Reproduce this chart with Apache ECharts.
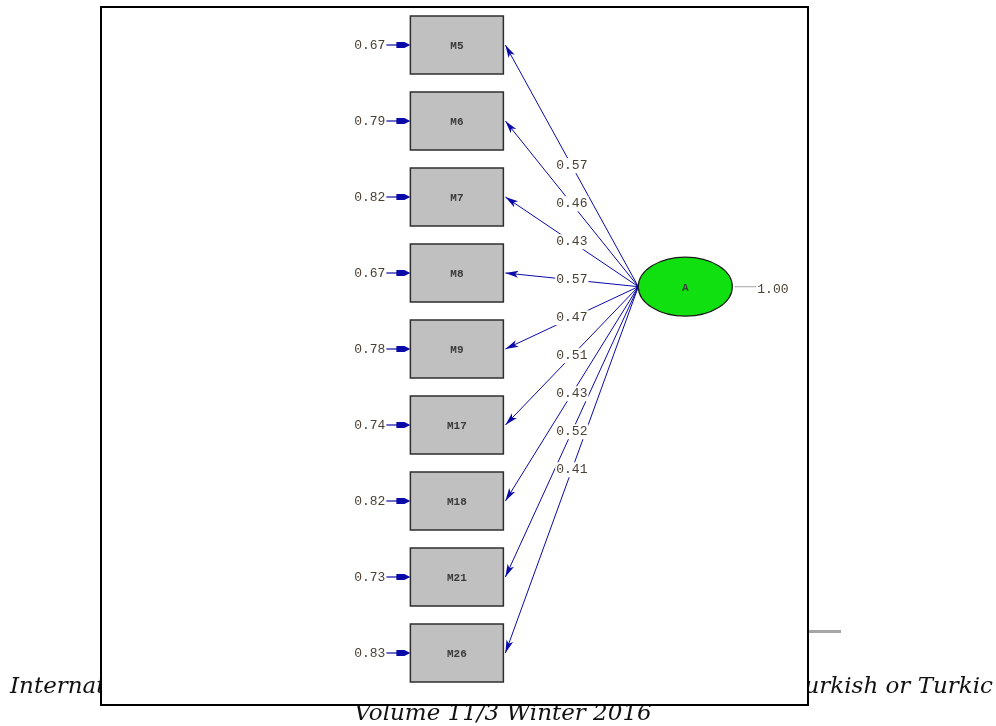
<!DOCTYPE html>
<html>
<head>
<meta charset="utf-8">
<script src="https://cdn.jsdelivr.net/npm/echarts@6/dist/echarts.min.js"></script>
<style>
  html, body { margin: 0; padding: 0; background: #fff; }
  #chart { width: 996px; height: 726px; }
</style>
</head>
<body>
<div id="chart"></div>
<script>
// observed indicators, their loadings on A and error variances
const indicators = ['M5', 'M6', 'M7', 'M8', 'M9', 'M17', 'M18', 'M21', 'M26'];
const loadings = [0.57, 0.46, 0.43, 0.57, 0.47, 0.51, 0.43, 0.52, 0.41];
const errors = [0.67, 0.79, 0.82, 0.67, 0.78, 0.74, 0.82, 0.73, 0.83];
const latentName = 'A';
const latentVariance = 1.00;

// layout (axis units): indicators in column 0, latent in column 1
const latentRow = 3.18;
const BOX_W = 93, BOX_H = 58;
const ELL_RX = 47, ELL_RY = 29.5;
const NAVY = '#0a0aa8';
const LABEL = '#4a3f33';
const MONO = '"Liberation Mono", "DejaVu Sans Mono", monospace';

const chart = echarts.init(document.getElementById('chart'));

function arrowHead(tip, from, len, half) {
  const dx = tip[0] - from[0], dy = tip[1] - from[1];
  const d = Math.sqrt(dx * dx + dy * dy);
  const ux = dx / d, uy = dy / d;
  const bx = tip[0] - ux * len, by = tip[1] - uy * len;
  const nx = tip[0] - ux * len * 0.75, ny = tip[1] - uy * len * 0.75;
  return [
    tip,
    [bx - uy * half, by + ux * half],
    [nx, ny],
    [bx + uy * half, by - ux * half]
  ];
}

function renderIndicator(params, api) {
  const c = api.coord([api.value(0), api.value(1)]);
  const x0 = c[0] - BOX_W / 2;
  const y = c[1];
  const i = params.dataIndex;
  return {
    type: 'group',
    children: [
      { type: 'rect', shape: { x: x0, y: y - BOX_H / 2, width: BOX_W, height: BOX_H },
        style: { fill: '#c0c0c0', stroke: '#2e2e2e', lineWidth: 1.5 } },
      { type: 'text', style: { text: indicators[i], x: c[0], y: y + 1, align: 'center', verticalAlign: 'middle',
        font: 'bold 11px ' + MONO, fill: '#3a3a3a' } },
      { type: 'line', shape: { x1: x0 - 24, y1: y, x2: x0 - 4, y2: y },
        style: { stroke: NAVY, lineWidth: 1.2 } },
      { type: 'polygon', shape: { points: [[x0 - 14, y - 3], [x0 - 6, y - 3], [x0, y], [x0 - 6, y + 3], [x0 - 14, y + 3]] },
        style: { fill: NAVY } },
      { type: 'text', style: { text: errors[i].toFixed(2), x: x0 - 25, y: y + 1, align: 'right', verticalAlign: 'middle',
        font: '13px ' + MONO, fill: LABEL } }
    ]
  };
}

function renderLoading(params, api) {
  const i = api.value(0);
  const b = api.coord([0, i]);
  const end = [b[0] + BOX_W / 2 + 2, b[1]];
  const l = api.coord([1, latentRow]);
  const start = [l[0] - ELL_RX, l[1]];
  const mid = [(start[0] + end[0]) / 2, (start[1] + end[1]) / 2];
  return {
    type: 'group',
    children: [
      { type: 'line', shape: { x1: start[0], y1: start[1], x2: end[0], y2: end[1] },
        style: { stroke: NAVY, lineWidth: 1 } },
      { type: 'polygon', shape: { points: arrowHead(end, start, 13, 3.5) }, style: { fill: NAVY } },
      { type: 'text', z2: 10, style: { text: api.value(1).toFixed(2), x: mid[0], y: mid[1], align: 'center', verticalAlign: 'middle',
        font: '13px ' + MONO, fill: LABEL, backgroundColor: '#fff', padding: [1, 1] } }
    ]
  };
}

function renderLatent(params, api) {
  const c = api.coord([api.value(0), api.value(1)]);
  return {
    type: 'group',
    children: [
      { type: 'ellipse', shape: { cx: c[0], cy: c[1], rx: ELL_RX, ry: ELL_RY },
        style: { fill: '#10e010', stroke: '#1a1a1a', lineWidth: 1.2 } },
      { type: 'text', style: { text: latentName, x: c[0], y: c[1] + 2, align: 'center', verticalAlign: 'middle',
        font: 'bold 11px ' + MONO, fill: '#3a3a3a' } },
      { type: 'line', shape: { x1: c[0] + ELL_RX + 2, y1: c[1], x2: c[0] + ELL_RX + 24, y2: c[1] },
        style: { stroke: '#b4b4b4', lineWidth: 1.2 } },
      { type: 'text', style: { text: api.value(2).toFixed(2), x: c[0] + ELL_RX + 25, y: c[1] + 3, align: 'left', verticalAlign: 'middle',
        font: '13px ' + MONO, fill: LABEL } }
    ]
  };
}

const pageFont = 'italic 23px "DejaVu Serif", "Liberation Serif", serif';

chart.setOption({
  animation: false,
  grid: { left: 0, right: 0, top: 7, bottom: 35 },
  xAxis: { type: 'value', min: -2, max: 2.36, show: false },
  yAxis: { type: 'value', min: -0.5, max: 8.5, inverse: true, show: false },
  graphic: [
    { type: 'text', x: 10, y: 687, style: { text: 'International Periodical for the Languages', font: pageFont, fill: '#111',
      align: 'left', verticalAlign: 'middle' } },
    { type: 'text', x: 993, y: 687, style: { text: 'Literature and History of Turkish or Turkic', font: pageFont, fill: '#111',
      align: 'right', verticalAlign: 'middle' } },
    { type: 'text', x: 503, y: 714, style: { text: 'Volume 11/3 Winter 2016', font: pageFont, fill: '#111',
      align: 'center', verticalAlign: 'middle' } },
    { type: 'rect', left: 800, top: 630, shape: { width: 41, height: 3 }, style: { fill: '#a6a6a6' } },
    { type: 'rect', left: 100, top: 6, shape: { width: 707, height: 698 },
      style: { fill: '#fff', stroke: '#000', lineWidth: 2 } }
  ],
  series: [
    {
      type: 'custom',
      name: 'loadings',
      renderItem: renderLoading,
      data: loadings.map((v, i) => [i, v])
    },
    {
      type: 'custom',
      name: 'indicators',
      renderItem: renderIndicator,
      data: indicators.map((n, i) => [0, i, errors[i]])
    },
    {
      type: 'custom',
      name: 'latent',
      renderItem: renderLatent,
      data: [[1, latentRow, latentVariance]]
    }
  ]
});
</script>
</body>
</html>
